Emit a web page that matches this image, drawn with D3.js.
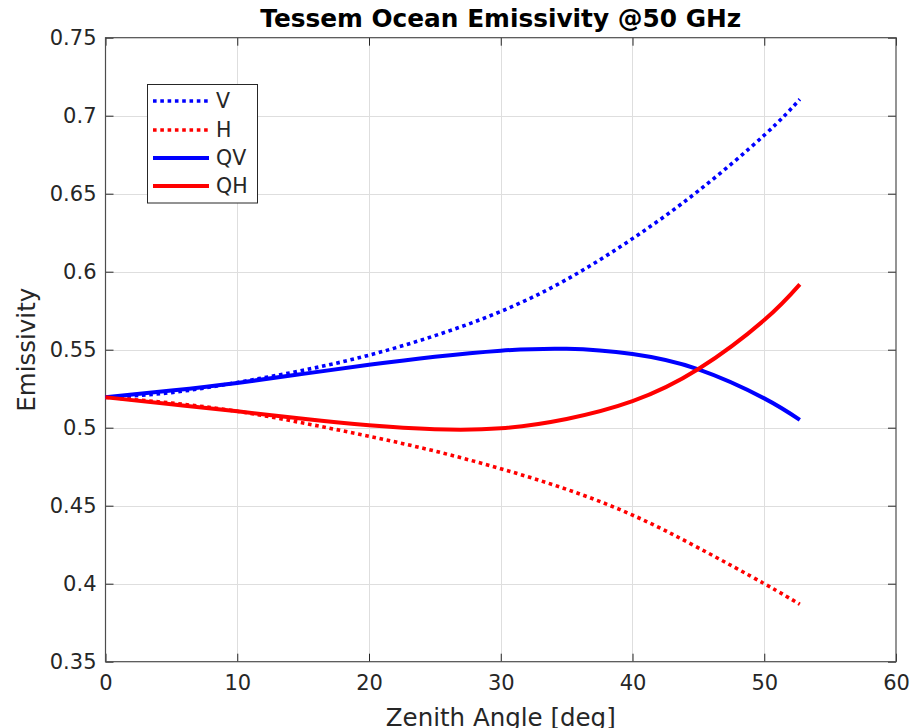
<!DOCTYPE html>
<html>
<head>
<meta charset="utf-8">
<script src="https://cdn.jsdelivr.net/npm/d3@7"></script>
<style>
  html, body { margin: 0; padding: 0; background: #fff; }
  svg { display: block; }
  text { font-family: "DejaVu Sans", sans-serif; fill: #262626; }
</style>
</head>
<body>
<svg id="chart" width="912" height="728"></svg>
<script>
// Zenith angles [deg] at which the emissivities were sampled
const angles = [0, 5, 10, 15, 20, 25, 30, 35, 40, 45, 50, 52.7];

// Fresnel-based Tessem model, vertical and horizontal polarisation
const emisV  = [0.5195, 0.5225, 0.5290, 0.5368, 0.5465, 0.5590, 0.5745, 0.5950, 0.6212, 0.6518, 0.6875, 0.7105];
const emisH  = [0.5195, 0.5158, 0.5105, 0.5030, 0.4945, 0.4850, 0.4737, 0.4605, 0.4440, 0.4230, 0.4000, 0.3868];
// Quasi-vertical / quasi-horizontal channels
const emisQV = [0.5195, 0.5238, 0.5287, 0.5345, 0.5403, 0.5455, 0.5494, 0.5506, 0.5472, 0.5374, 0.5188, 0.5050];
const emisQH = [0.5195, 0.5150, 0.5105, 0.5057, 0.5015, 0.4990, 0.4996, 0.5056, 0.5170, 0.5376, 0.5690, 0.5919];

const xTicks = [0, 10, 20, 30, 40, 50, 60];
const yTicks = [0.35, 0.4, 0.45, 0.5, 0.55, 0.6, 0.65, 0.7, 0.75];

const series = [
  { name: "V",  values: emisV,  color: "#0000ff", dotted: true },
  { name: "H",  values: emisH,  color: "#ff0000", dotted: true },
  { name: "QV", values: emisQV, color: "#0000ff", dotted: false },
  { name: "QH", values: emisQH, color: "#ff0000", dotted: false }
];

const svg = d3.select("#chart");
const plot = { left: 105.5, right: 896, top: 37.7, bottom: 661.7 };

const x = d3.scaleLinear().domain([0, 60]).range([plot.left, plot.right]);
const y = d3.scaleLinear().domain([0.35, 0.75]).range([plot.bottom, plot.top]);

// grid
const grid = svg.append("g").attr("stroke", "#dedede").attr("stroke-width", 1);
grid.selectAll("line.gx").data(xTicks.slice(1, -1)).join("line")
  .attr("x1", d => Math.round(x(d)) + 0.5).attr("x2", d => Math.round(x(d)) + 0.5)
  .attr("y1", plot.top).attr("y2", plot.bottom);
grid.selectAll("line.gy").data(yTicks.slice(1, -1)).join("line")
  .attr("y1", d => Math.round(y(d)) + 0.5).attr("y2", d => Math.round(y(d)) + 0.5)
  .attr("x1", plot.left).attr("x2", plot.right);

// axes with inward ticks on all four sides
const tickLen = 8;
function styleAxis(g) {
  g.select(".domain").remove();
  g.selectAll(".tick line").attr("stroke", "#262626");
  g.selectAll("text").style("font-size", "21px").attr("fill", "#262626")
    .style("font-family", "DejaVu Sans, sans-serif");
}
svg.append("g").attr("transform", `translate(0,${plot.bottom})`)
  .call(d3.axisBottom(x).tickValues(xTicks).tickSize(-tickLen).tickPadding(13).tickFormat(d3.format("d")))
  .call(styleAxis);
svg.append("g").attr("transform", `translate(0,${plot.top})`)
  .call(d3.axisTop(x).tickValues(xTicks).tickSize(-tickLen).tickFormat(""))
  .call(styleAxis);
svg.append("g").attr("transform", `translate(${plot.left},0)`)
  .call(d3.axisLeft(y).tickValues(yTicks).tickSize(-tickLen).tickPadding(9).tickFormat(d => d3.format("")(+d.toFixed(2))))
  .call(styleAxis);
svg.append("g").attr("transform", `translate(${plot.right},0)`)
  .call(d3.axisRight(y).tickValues(yTicks).tickSize(-tickLen).tickFormat(""))
  .call(styleAxis);

// box
svg.append("rect")
  .attr("x", plot.left).attr("y", plot.top)
  .attr("width", plot.right - plot.left).attr("height", plot.bottom - plot.top)
  .attr("fill", "none").attr("stroke", "#4d4d4d").attr("stroke-width", 1.2);

// curves
const line = d3.line().curve(d3.curveNatural);
const curves = svg.append("g").attr("fill", "none");
series.forEach(s => {
  const pts = angles.map((a, i) => [x(a), y(s.values[i])]);
  curves.append("path")
    .attr("d", line(pts))
    .attr("stroke", s.color)
    .attr("stroke-width", s.dotted ? 3.6 : 4)
    .attr("stroke-dasharray", s.dotted ? "3.6 3.7" : null)
    .attr("stroke-linejoin", "round");
});

// legend
const lg = svg.append("g");
lg.append("rect").attr("x", 147.5).attr("y", 84.5).attr("width", 110).attr("height", 118.5)
  .attr("fill", "#fff").attr("stroke", "#262626").attr("stroke-width", 1);
const rowY = [101, 130, 158, 186];
series.forEach((s, i) => {
  lg.append("line")
    .attr("x1", 153).attr("x2", 209).attr("y1", rowY[i]).attr("y2", rowY[i])
    .attr("stroke", s.color)
    .attr("stroke-width", s.dotted ? 3.6 : 4)
    .attr("stroke-dasharray", s.dotted ? "3.6 3.7" : null);
  lg.append("text")
    .attr("x", 216).attr("y", rowY[i]).attr("dy", "0.36em")
    .style("font-size", "20.5px").text(s.name);
});

// title and axis labels
svg.append("text").attr("x", (plot.left + plot.right) / 2).attr("y", 27)
  .attr("text-anchor", "middle").style("font-size", "24.8px").style("font-weight", "bold")
  .style("fill", "#000")
  .text("Tessem Ocean Emissivity @50 GHz");
svg.append("text").attr("x", (plot.left + plot.right) / 2).attr("y", 726)
  .attr("text-anchor", "middle").style("font-size", "24.5px")
  .text("Zenith Angle [deg]");
svg.append("text")
  .attr("transform", `translate(35,${(plot.top + plot.bottom) / 2}) rotate(-90)`)
  .attr("text-anchor", "middle").style("font-size", "24.5px")
  .text("Emissivity");
</script>
</body>
</html>
